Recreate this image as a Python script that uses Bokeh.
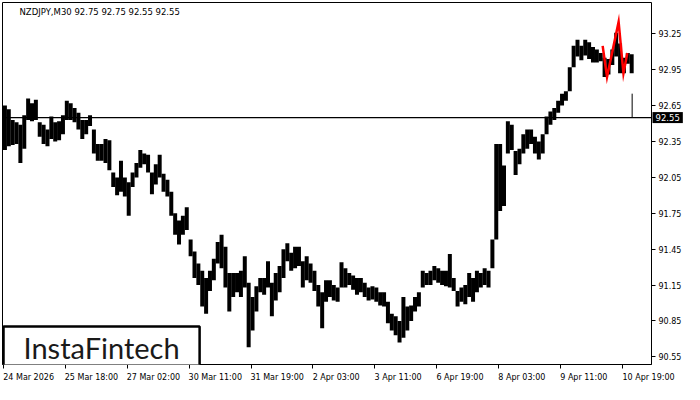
from bokeh.plotting import figure
from bokeh.models import (ColumnDataSource, FixedTicker, Span, Label, Range1d,
                          PrintfTickFormatter, LinearAxis)
from bokeh.embed import file_html
from bokeh.resources import INLINE

# ---------------- data ----------------
title_text = "NZDJPY,M30  92.75 92.75 92.55 92.55"
logo_text = "InstaFintech"

bars_per_group = 4  # each group = 4 M30 bars (high/low envelope)

group_high = [
    92.65, 92.62, 92.53, 92.51, 92.49, 92.57, 92.71, 92.67, 92.70, 92.51,
    92.49, 92.45, 92.56, 92.51, 92.52, 92.57, 92.69, 92.67, 92.63, 92.59,
    92.53, 92.53, 92.57, 92.45, 92.33, 92.33, 92.37, 92.36, 92.09, 92.05,
    92.19, 92.05, 92.01, 92.09, 92.17, 92.28, 92.25, 92.24, 92.09, 92.16,
    92.24, 92.08, 92.03, 91.93, 91.75, 91.69, 91.73, 91.80, 91.53, 91.43,
    91.33, 91.27, 91.21, 91.27, 91.37, 91.51, 91.57, 91.47, 91.25, 91.25,
    91.25, 91.27, 91.39, 91.17, 91.05, 91.14, 91.21, 91.21, 91.35, 91.17,
    91.25, 91.31, 91.45, 91.50, 91.42, 91.47, 91.47, 91.35, 91.39, 91.33,
    91.27, 91.15, 91.09, 91.19, 91.19, 91.15, 91.13, 91.34, 91.29, 91.25,
    91.23, 91.21, 91.21, 91.17, 91.13, 91.14, 91.13, 91.09, 91.09, 91.01,
    90.91, 90.89, 90.85, 91.05, 90.97, 90.98, 91.05, 91.09, 91.27, 91.25,
    91.27, 91.31, 91.29, 91.27, 91.27, 91.41, 91.21, 91.10, 91.13, 91.15,
    91.25, 91.21, 91.27, 91.25, 91.29, 91.27, 91.53, 92.33, 92.33, 92.15,
    92.52, 92.49, 92.27, 92.29, 92.41, 92.45, 92.45, 92.39, 92.35, 92.41,
    92.56, 92.60, 92.63, 92.69, 92.75, 92.77, 92.97, 93.15, 93.20, 93.15,
    93.20, 93.18, 93.14, 93.12, 93.09, 93.05, 93.04, 93.12, 93.26, 93.17,
    93.05, 93.09, 93.08,
]
group_low = [
    92.28, 92.31, 92.32, 92.33, 92.17, 92.29, 92.53, 92.52, 92.53, 92.39,
    92.33, 92.31, 92.37, 92.35, 92.36, 92.41, 92.53, 92.53, 92.51, 92.45,
    92.37, 92.41, 92.48, 92.25, 92.19, 92.19, 92.17, 92.11, 91.97, 91.90,
    91.93, 91.89, 91.73, 91.97, 92.05, 92.13, 92.16, 92.09, 91.91, 91.99,
    92.05, 91.93, 91.89, 91.73, 91.57, 91.49, 91.57, 91.61, 91.39, 91.21,
    91.15, 90.97, 90.91, 91.10, 91.19, 91.33, 91.29, 91.13, 90.93, 91.05,
    91.09, 91.05, 91.13, 90.63, 90.77, 90.93, 91.09, 91.07, 91.13, 90.89,
    91.02, 91.09, 91.21, 91.35, 91.27, 91.29, 91.31, 91.13, 91.19, 91.17,
    91.10, 90.97, 90.79, 91.01, 91.05, 91.02, 91.01, 91.13, 91.13, 91.15,
    91.11, 91.07, 91.09, 91.05, 91.02, 91.03, 91.01, 90.98, 90.97, 90.83,
    90.77, 90.73, 90.67, 90.71, 90.77, 90.85, 90.93, 90.97, 91.13, 91.15,
    91.15, 91.19, 91.17, 91.15, 91.14, 91.13, 91.10, 90.97, 91.01, 90.99,
    91.05, 91.01, 91.09, 91.13, 91.15, 91.13, 91.29, 91.53, 91.77, 91.81,
    92.25, 92.28, 92.07, 92.16, 92.25, 92.29, 92.33, 92.25, 92.20, 92.25,
    92.41, 92.49, 92.53, 92.59, 92.65, 92.69, 92.77, 92.97, 93.06, 93.03,
    93.07, 93.04, 93.01, 93.01, 93.02, 92.89, 92.91, 92.99, 93.06, 92.92,
    92.92, 93.00, 92.92,
]

current_bar = 650
current_high = 92.75
current_low = 92.55
level_price = 92.55

pattern_bar = [619.5, 624, 636, 641, 645]
pattern_price = [93.15, 92.89, 93.35, 92.92, 93.09]

y_ticks = [90.55, 90.85, 91.15, 91.45, 91.75, 92.05, 92.35, 92.65, 92.95, 93.25]
x_tick_bars = [0, 64, 128, 192, 256, 320, 384, 448, 512, 576, 640]
x_tick_labels = ["24 Mar 2026", "25 Mar 18:00", "27 Mar 02:00", "30 Mar 11:00",
                 "31 Mar 19:00", "2 Apr 03:00", "3 Apr 11:00", "6 Apr 19:00",
                 "8 Apr 03:00", "9 Apr 11:00", "10 Apr 19:00"]

# ---------------- layout ----------------
FIG_W, FIG_H = 684, 384
B_LEFT, B_TOP, B_RIGHT, B_BOTTOM = 2, 2, 30, 15
FRAME_W = FIG_W - B_LEFT - B_RIGHT
FRAME_H = FIG_H - B_TOP - B_BOTTOM
Y0, Y1 = 90.486, 93.512
X0, X1 = -1, 670
FONT = "DejaVu Sans"
FS = 8  # px
px_per_bar = FRAME_W / (X1 - X0)
PANEL_W = 30  # width taken by the price box panel, which sits next to the frame

# approximate DejaVu Sans advance widths (em) to left-align the date labels at their ticks
EM = {"0": .636, "1": .636, "2": .636, "3": .636, "4": .636, "5": .636, "6": .636,
      "7": .636, "8": .636, "9": .636, " ": .318, ":": .337, "M": .863, "a": .613,
      "r": .411, "A": .684, "p": .635}


def text_w(s):
    return sum(EM.get(c, .6) for c in s) * FS


label_pos = [int(round(b + text_w(t) / 2 / px_per_bar)) for b, t in zip(x_tick_bars, x_tick_labels)]

p = figure(width=FIG_W, height=FIG_H, output_backend="svg", toolbar_location=None,
           x_range=Range1d(X0, X1), y_range=Range1d(Y0, Y1),
           y_axis_location=None, min_border_left=B_LEFT, min_border_top=B_TOP,
           min_border_right=B_RIGHT, min_border_bottom=B_BOTTOM)
p.grid.visible = False
p.outline_line_color = "black"
p.outline_line_width = 1
p.background_fill_color = "white"
p.border_fill_color = "white"

# price box on the right side (side panel, so it is drawn outside the frame)
p.add_layout(Label(x=X1, y=level_price, x_offset=1, text=f"{level_price:.2f}",
                   text_baseline="middle", text_align="left", text_font=FONT,
                   text_font_size="8.5px", text_color="white",
                   background_fill_color="black", padding=(3, 2)), "right")

# y axis (right), pulled back over the price-box panel so it sits on the frame edge
ya = LinearAxis(ticker=FixedTicker(ticks=y_ticks), formatter=PrintfTickFormatter(format="%.2f"))
ya.axis_line_color = None
ya.major_tick_line_color = "black"
ya.major_tick_in = PANEL_W
ya.major_tick_out = 4 - PANEL_W
ya.minor_tick_line_color = None
ya.minor_tick_in = 0
ya.minor_tick_out = 0
ya.major_label_text_font = FONT
ya.major_label_text_font_size = f"{FS}px"
ya.major_label_text_color = "black"
ya.major_label_standoff = 7 - PANEL_W
p.add_layout(ya, "right")

# x axis: minor ticks mark the dates, major (invisible) ticks carry the left-aligned labels
xa = p.xaxis[0]
xa.ticker = FixedTicker(ticks=label_pos, minor_ticks=x_tick_bars)
xa.major_label_overrides = {lp: t for lp, t in zip(label_pos, x_tick_labels)}
xa.axis_line_color = "black"
xa.major_tick_line_color = None
xa.major_tick_in = 0
xa.major_tick_out = 0
xa.minor_tick_line_color = "black"
xa.minor_tick_in = 0
xa.minor_tick_out = 4
xa.major_label_text_font = FONT
xa.major_label_text_font_size = f"{FS}px"
xa.major_label_text_color = "black"
xa.major_label_standoff = 4

# price bars (high/low envelope per group)
gx = [i * bars_per_group + (bars_per_group - 1) / 2 for i in range(len(group_high))]
src = ColumnDataSource(dict(x=gx, hi=group_high, lo=group_low))
p.segment(x0="x", y0="lo", x1="x", y1="hi", source=src, line_color="black",
          line_width=4, line_cap="butt")

# current bar
p.segment(x0=[current_bar], y0=[current_low], x1=[current_bar], y1=[current_high],
          line_color="black", line_width=1)

# level line
p.add_layout(Span(location=level_price, dimension="width", line_color="black", line_width=1.3))

# pattern (red)
p.line(pattern_bar, pattern_price, line_color="red", line_width=2.5, line_join="miter")

# title
p.add_layout(Label(x=X0, y=Y1, x_offset=17, y_offset=-4, text=title_text,
                   text_baseline="top", text_align="left", text_font=FONT,
                   text_font_size="8.5px", text_color="black"))

# logo
p.add_layout(Label(x=X0, y=Y0, x_offset=1, y_offset=-3, text=logo_text,
                   text_baseline="bottom", text_align="left", text_font="Lato",
                   text_font_size="29px", text_color="#1a1a1a",
                   background_fill_color="white", border_line_color="black",
                   border_line_width=2.5, padding=(20, 3)))

open("out.html", "w").write(file_html(p, INLINE))
